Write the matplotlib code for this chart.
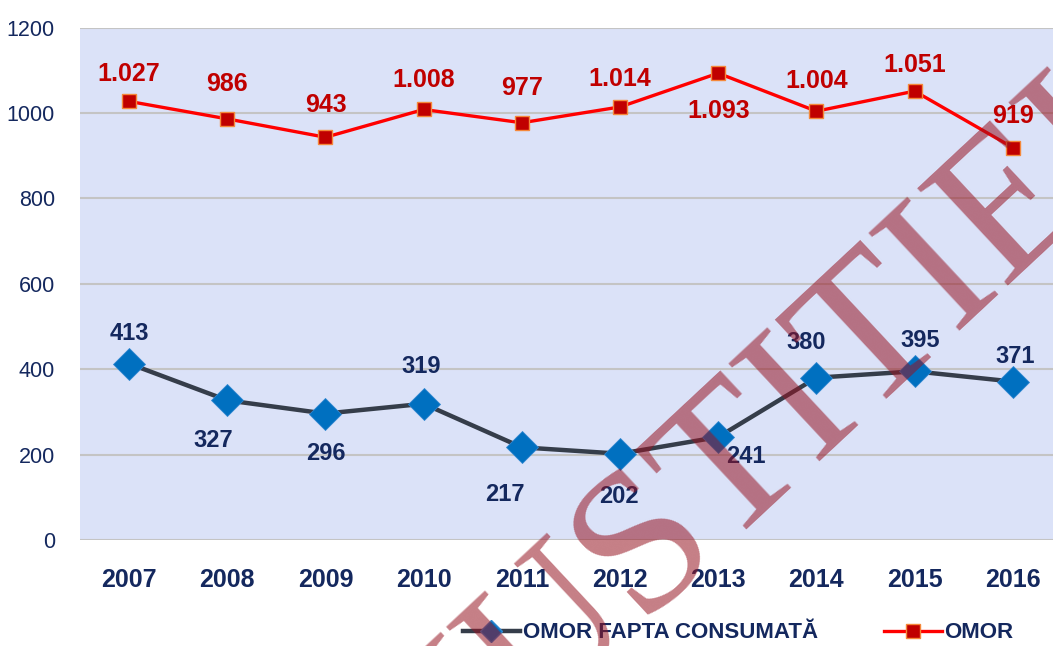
import numpy as np
import matplotlib
matplotlib.use('Agg')
import matplotlib.pyplot as plt
from matplotlib.lines import Line2D

plt.rcParams['font.family'] = ['Liberation Sans Narrow', 'Liberation Sans', 'DejaVu Sans']

years = ['2007', '2008', '2009', '2010', '2011', '2012', '2013', '2014', '2015', '2016']
omor = [1027, 986, 943, 1008, 977, 1014, 1093, 1004, 1051, 919]
omor_consumata = [413, 327, 296, 319, 217, 202, 241, 380, 395, 371]

# label offsets in points (dx, dy)
omor_off = [(0, 20), (0, 25), (0, 23), (0, 21), (0, 25), (0, 20), (0, -27), (0, 22), (0, 19), (0, 23)]
cons_off = [(0, 22), (-10, -29), (0, -29), (-2, 27), (-12, -34), (-1, -31), (20, -14), (-7, 25), (4, 22), (2, 18)]

navy = '#14285e'
dark_red = '#c00000'


def fmt(v):
    # romanian thousands separator
    return f'{v:,}'.replace(',', '.')


fig = plt.figure(figsize=(10.53, 6.46), dpi=100)
ax = fig.add_axes([80 / 1053, 1 - 540 / 646, 1 - 80 / 1053, (540 - 27.5) / 646])
ax.set_facecolor('#dbe2f8')

x = np.arange(len(years))

ax.plot(x, omor_consumata, color='#353d4a', lw=3.2, zorder=3,
        marker='D', markersize=16, markerfacecolor='#0070c0',
        markeredgecolor='#2f86d0', markeredgewidth=0.6)
ax.plot(x, omor, color='#ff0000', lw=2.4, zorder=3,
        marker='s', markersize=10, markerfacecolor='#c00000',
        markeredgecolor='#f5883a', markeredgewidth=1.0)

for i, v in enumerate(omor):
    ax.annotate(fmt(v), (x[i], v), xytext=omor_off[i], textcoords='offset points',
                ha='center', va='center', color=dark_red, fontsize=18, fontweight='bold', zorder=5)
for i, v in enumerate(omor_consumata):
    ax.annotate(fmt(v), (x[i], v), xytext=cons_off[i], textcoords='offset points',
                ha='center', va='center', color=navy, fontsize=17, fontweight='bold', zorder=5)

ax.set_ylim(0, 1200)
ax.set_yticks(np.arange(0, 1201, 200))
ax.set_xlim(-0.5, 9.41)
ax.set_xticks(x)
ax.set_xticklabels(years, fontsize=18, fontweight='bold', color=navy)
ax.tick_params(axis='y', labelsize=15.5, labelcolor=navy, length=0, pad=18)
ax.tick_params(axis='x', length=0, pad=20)
ax.grid(axis='y', color='#c4c4c4', lw=1.5)
ax.set_axisbelow(True)
for s in ax.spines.values():
    s.set_visible(False)

handles = [
    Line2D([], [], color='#353d4a', lw=3.2, marker='D', markersize=11,
           markerfacecolor='#0070c0', markeredgecolor='#2f86d0'),
    Line2D([], [], color='#ff0000', lw=2.4, marker='s', markersize=10,
           markerfacecolor='#c00000', markeredgecolor='#f5883a'),
]
leg = fig.legend(handles, ['OMOR FAPTA CONSUMATĂ', 'OMOR'], loc='center', ncol=2,
                 bbox_to_anchor=(738 / 1053, 1 - 633 / 646), frameon=False,
                 handlelength=2.6, handletextpad=0.1, columnspacing=3.0,
                 prop={'size': 16, 'weight': 'bold'})
for t in leg.get_texts():
    t.set_color(navy)

# watermark
fig.text(810 / 1053, 1 - 466 / 646, 'JUSTITIEI', rotation=43, rotation_mode='anchor',
         ha='center', va='baseline', fontsize=146, family='Liberation Serif',
         color='#961422', alpha=0.55, zorder=10)

fig.savefig('out.png', dpi=100)
